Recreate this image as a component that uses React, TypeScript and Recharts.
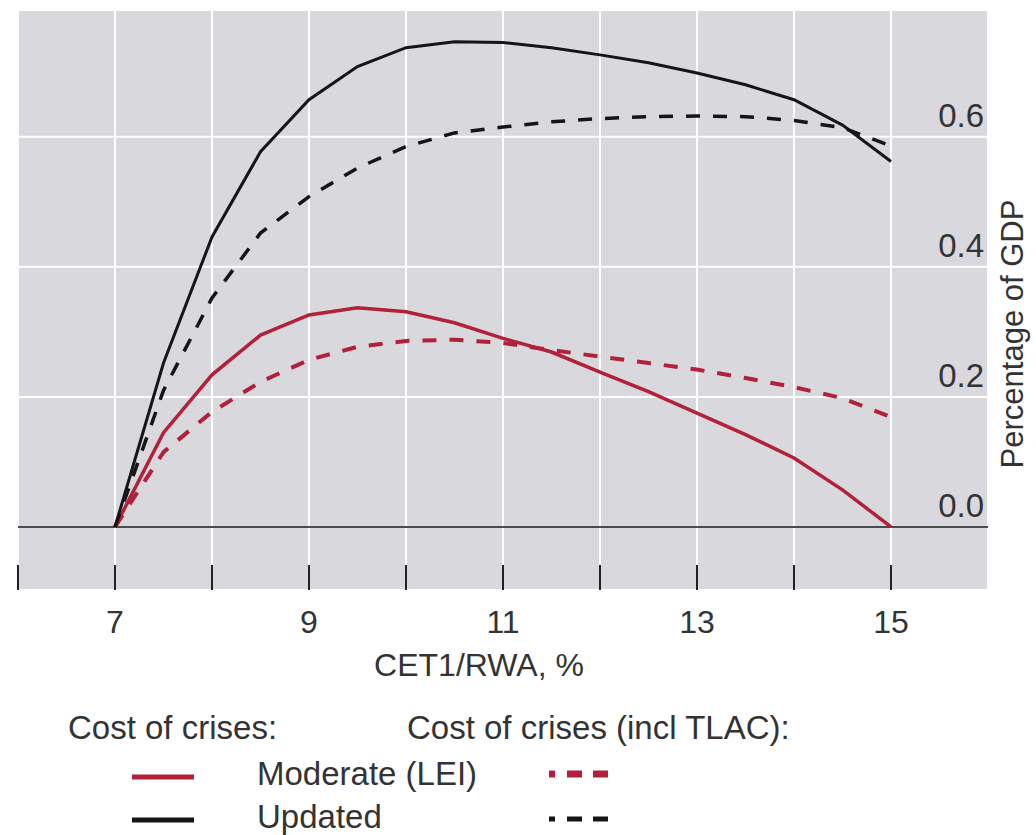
import { LineChart, Line, XAxis, YAxis, CartesianGrid, ReferenceLine } from 'recharts'

// CET1/RWA, %
const X = [7, 7.5, 8, 8.5, 9, 9.5, 10, 10.5, 11, 11.5, 12, 12.5, 13, 13.5, 14, 14.5, 15]

// cost of crises, % of GDP
const moderate = [0, 0.145, 0.234, 0.295, 0.326, 0.337, 0.331, 0.314, 0.29, 0.269, 0.238, 0.208, 0.175, 0.142, 0.106, 0.057, 0]
const updated = [0, 0.252, 0.446, 0.577, 0.657, 0.708, 0.737, 0.746, 0.745, 0.737, 0.726, 0.714, 0.698, 0.68, 0.657, 0.618, 0.562]
// incl TLAC
const moderateTlac = [0, 0.115, 0.177, 0.223, 0.257, 0.277, 0.286, 0.288, 0.283, 0.272, 0.262, 0.252, 0.242, 0.229, 0.215, 0.198, 0.169]
const updatedTlac = [0, 0.21, 0.352, 0.452, 0.508, 0.552, 0.585, 0.606, 0.615, 0.623, 0.628, 0.631, 0.632, 0.631, 0.625, 0.614, 0.586]

const X_TICKS = [6, 7, 8, 9, 10, 11, 12, 13, 14, 15]
const X_LABELS = [7, 9, 11, 13, 15]
const Y_TICKS = [0, 0.2, 0.4, 0.6]

const RED = '#B3203A'
const BLACK = '#151515'
const TEXT = '#333'
const FONT = '"Liberation Sans", Arial, Helvetica, sans-serif'

const data = X.map((x, i) => ({
  x,
  moderate: moderate[i],
  updated: updated[i],
  moderateTlac: moderateTlac[i],
  updatedTlac: updatedTlac[i],
}))

const SERIES = [
  { key: 'moderate', name: 'Moderate (LEI)', color: RED, width: 3.5, legendW: 5, dash: undefined as string | undefined },
  { key: 'updated', name: 'Updated', color: BLACK, width: 3, legendW: 5, dash: undefined as string | undefined },
  { key: 'moderateTlac', name: 'Moderate (LEI)', color: RED, width: 4, legendW: 7, dash: '14 13' },
  { key: 'updatedTlac', name: 'Updated', color: BLACK, width: 3.5, legendW: 5, dash: '14 13' },
]

const XTick = ({ x, y, payload }: any) => (
  <g>
    <line x1={x} x2={x} y1={y - 25} y2={y} stroke="#222" strokeWidth={2} />
    {X_LABELS.includes(payload.value) && (
      <text x={x} y={y + 43} textAnchor="middle" fill={TEXT} fontSize={32} fontFamily={FONT}>
        {payload.value}
      </text>
    )}
  </g>
)

const YTick = ({ x, y, payload }: any) => (
  <text x={x} y={y - 10} textAnchor="end" fill={TEXT} fontSize={33} fontFamily={FONT}>
    {payload.value.toFixed(1)}
  </text>
)

const LegendLine = ({ color, width, dash }: { color: string; width: number; dash?: string }) => (
  <svg width={62} height={10} style={{ display: 'block' }}>
    <line x1={0} x2={62} y1={5} y2={5} stroke={color} strokeWidth={width}
      strokeDasharray={dash ? '6 12 15 11 15 20' : undefined} />
  </svg>
)

export default function App() {
  const solid = SERIES.filter(s => !s.dash)
  const dashed = SERIES.filter(s => s.dash)
  return (
    <div style={{ position: 'absolute', left: 0, top: 0, width: 1036, height: 835, background: '#fff', fontFamily: FONT, color: TEXT }}>
      <LineChart width={1036} height={690} data={data} margin={{ top: 10, right: 48, left: 18, bottom: 0 }}>
        <CartesianGrid fill="#D9D9DD" stroke="#fff" strokeWidth={2} />
        <XAxis type="number" dataKey="x" domain={[6, 16]} ticks={X_TICKS} height={100}
          axisLine={false} tickLine={false} tickSize={0} tickMargin={0} tick={<XTick />} interval={0}
          label={{ value: 'CET1/RWA, %', position: 'insideBottom', offset: 14, dx: -24, fill: TEXT, fontSize: 32, fontFamily: FONT }} />
        <YAxis type="number" orientation="right" mirror domain={[-0.097, 0.795]} ticks={Y_TICKS}
          allowDataOverflow axisLine={false} tickLine={false} tickSize={0} tickMargin={4} tick={<YTick />} interval={0} />
        <ReferenceLine y={0} stroke="#111" strokeWidth={1.5} />
        {SERIES.map(s => (
          <Line key={s.key} type="linear" dataKey={s.key} name={s.name} stroke={s.color} strokeWidth={s.width}
            strokeDasharray={s.dash} dot={false} activeDot={false} isAnimationActive={false} />
        ))}
      </LineChart>

      <div style={{ position: 'absolute', left: 1013, top: 334, transform: 'translate(-50%, -50%) rotate(-90deg)', fontSize: 31, whiteSpace: 'nowrap' }}>
        Percentage of GDP
      </div>

      <div style={{ position: 'absolute', left: 68, top: 709, fontSize: 33, lineHeight: '38px', whiteSpace: 'nowrap' }}>Cost of crises:</div>
      <div style={{ position: 'absolute', left: 407, top: 709, fontSize: 33, lineHeight: '38px', whiteSpace: 'nowrap' }}>Cost of crises (incl TLAC):</div>
      {solid.map((s, i) => (
        <div key={s.key}>
          <div style={{ position: 'absolute', left: 132, top: 772 + i * 43 }}>
            <LegendLine color={s.color} width={s.legendW} />
          </div>
          <div style={{ position: 'absolute', left: 257, top: 755 + i * 43, fontSize: 33, lineHeight: '38px', whiteSpace: 'nowrap' }}>{s.name}</div>
          <div style={{ position: 'absolute', left: 549, top: 769 + i * 45 }}>
            <LegendLine color={dashed[i].color} width={dashed[i].legendW} dash={dashed[i].dash} />
          </div>
        </div>
      ))}
    </div>
  )
}
